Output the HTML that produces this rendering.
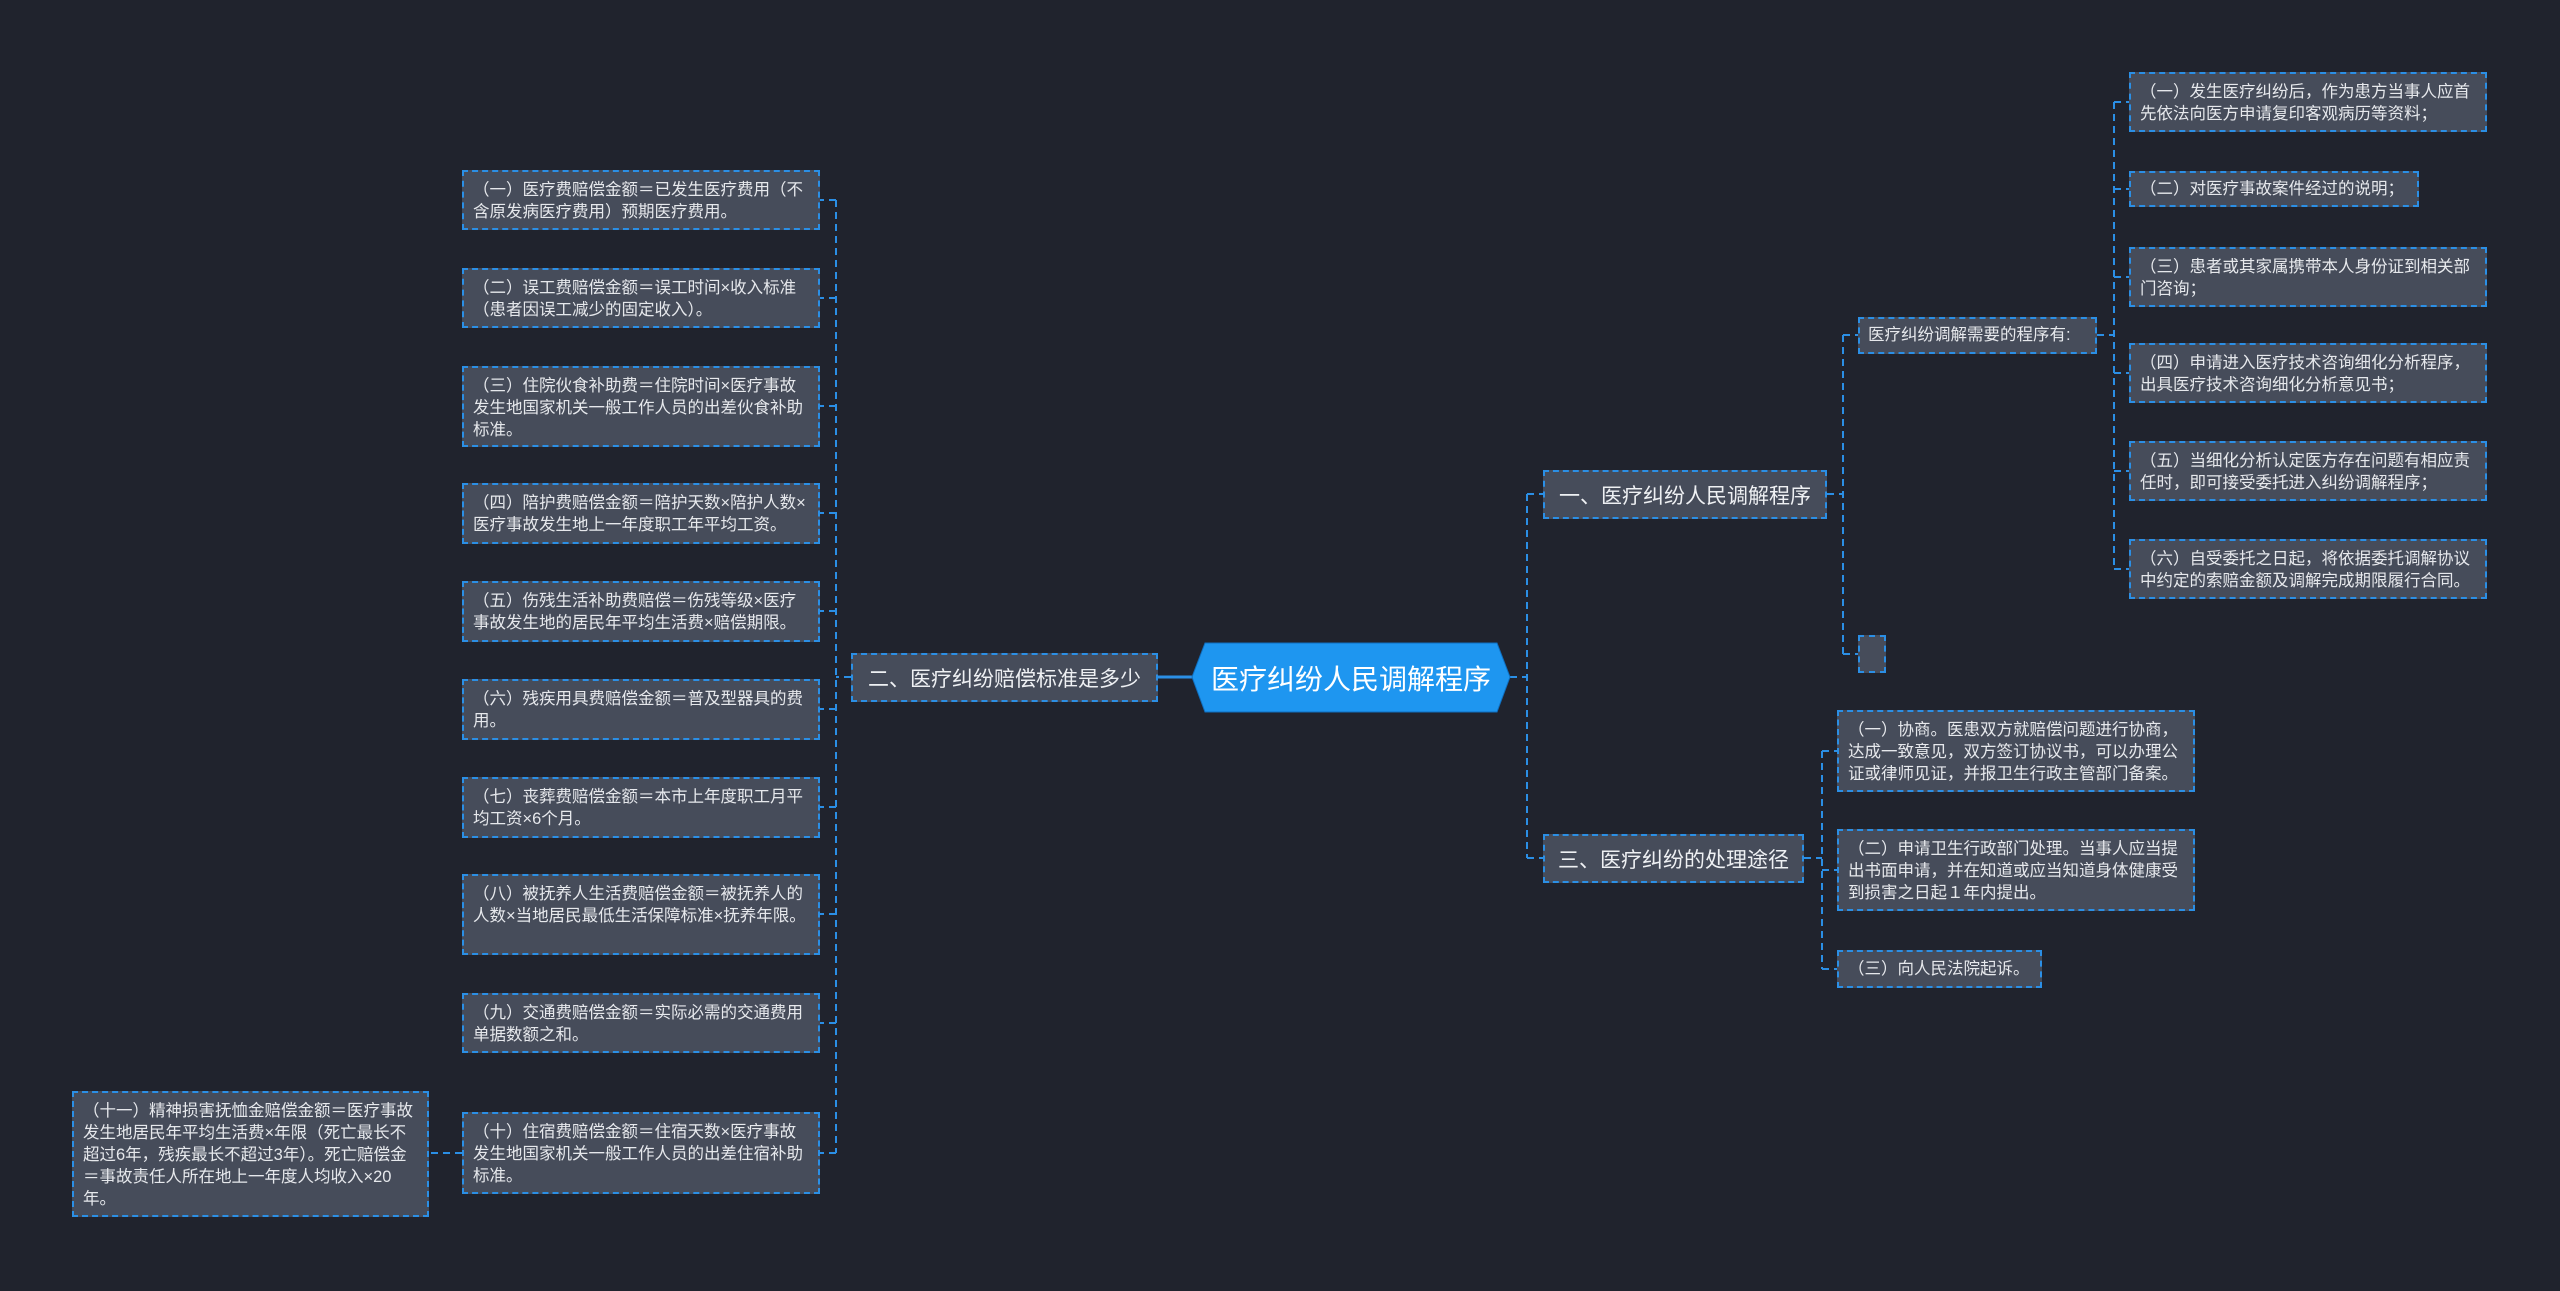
<!DOCTYPE html>
<html><head><meta charset="utf-8"><style>
html,body{margin:0;padding:0}
body{width:2560px;height:1291px;background:#20232d;position:relative;overflow:hidden;font-family:"Liberation Sans","Noto Sans CJK SC",sans-serif}
.n{position:absolute;box-sizing:border-box;background:#464c5a;border:2px dashed #2b8fe5;color:#e6e8ec;font-size:16.5px;line-height:22px;padding:7px 9px;word-break:break-all}
.b{position:absolute;box-sizing:border-box;background:#464c5a;border:2px dashed #2b8fe5;color:#eef0f3;font-size:21px;display:flex;align-items:center;justify-content:center;white-space:nowrap}
svg{position:absolute;left:0;top:0}
</style></head><body>
<svg width="2560" height="1291">
<g stroke="#2b8fe5" stroke-width="2" fill="none" stroke-dasharray="7 5">
<!-- center to right branches -->
<path d="M1510 677 H1527 M1527 494 V858 M1527 494 H1543 M1527 858 H1543"/>
<!-- center to left -->
<path d="M1192 677 H1158" stroke-dasharray="none" stroke-width="3"/>
<path d="M851 677 H836 M836 200 V1153"/>
<path d="M836 200 H820 M836 298 H820 M836 406 H820 M836 513 H820 M836 611 H820 M836 709 H820 M836 807 H820 M836 914 H820 M836 1023 H820 M836 1153 H820"/>
<path d="M462 1153 H429"/>
<!-- branch 1 -->
<path d="M1827 494 H1843 M1843 335 V654 M1843 335 H1858 M1843 654 H1858"/>
<path d="M2097 335 H2114 M2114 102 V569 M2114 102 H2129 M2114 189 H2129 M2114 277 H2129 M2114 373 H2129 M2114 471 H2129 M2114 569 H2129"/>
<!-- branch 3 -->
<path d="M1804 858 H1822 M1822 751 V969 M1822 751 H1837 M1822 870 H1837 M1822 969 H1837"/>
</g>
</svg>
<svg width="2560" height="1291"><polygon points="1205,643 1497,643 1510,677 1497,712 1205,712 1192,677" fill="#1e96f0" stroke="#0f6fc0" stroke-width="1"/></svg>
<div style="position:absolute;left:1192px;top:643px;width:318px;height:69px;display:flex;align-items:center;justify-content:center;color:#fff;font-size:28px">医疗纠纷人民调解程序</div>

<div class="b" style="left:851px;top:653px;width:307px;height:49px">二、医疗纠纷赔偿标准是多少</div>
<div class="b" style="left:1543px;top:470px;width:284px;height:49px">一、医疗纠纷人民调解程序</div>
<div class="b" style="left:1543px;top:834px;width:261px;height:49px">三、医疗纠纷的处理途径</div>

<div class="n" style="left:462px;top:170px;width:358px;height:60px">（一）医疗费赔偿金额＝已发生医疗费用（不含原发病医疗费用）预期医疗费用。</div>
<div class="n" style="left:462px;top:268px;width:358px;height:60px">（二）误工费赔偿金额＝误工时间×收入标准（患者因误工减少的固定收入）。</div>
<div class="n" style="left:462px;top:366px;width:358px;height:81px">（三）住院伙食补助费＝住院时间×医疗事故发生地国家机关一般工作人员的出差伙食补助标准。</div>
<div class="n" style="left:462px;top:483px;width:358px;height:61px">（四）陪护费赔偿金额＝陪护天数×陪护人数×医疗事故发生地上一年度职工年平均工资。</div>
<div class="n" style="left:462px;top:581px;width:358px;height:61px">（五）伤残生活补助费赔偿＝伤残等级×医疗事故发生地的居民年平均生活费×赔偿期限。</div>
<div class="n" style="left:462px;top:679px;width:358px;height:61px">（六）残疾用具费赔偿金额＝普及型器具的费用。</div>
<div class="n" style="left:462px;top:777px;width:358px;height:61px">（七）丧葬费赔偿金额＝本市上年度职工月平均工资×6个月。</div>
<div class="n" style="left:462px;top:874px;width:358px;height:81px">（八）被抚养人生活费赔偿金额＝被抚养人的人数×当地居民最低生活保障标准×抚养年限。</div>
<div class="n" style="left:462px;top:993px;width:358px;height:60px">（九）交通费赔偿金额＝实际必需的交通费用单据数额之和。</div>
<div class="n" style="left:462px;top:1112px;width:358px;height:82px">（十）住宿费赔偿金额＝住宿天数×医疗事故发生地国家机关一般工作人员的出差住宿补助标准。</div>
<div class="n" style="left:72px;top:1091px;width:357px;height:126px">（十一）精神损害抚恤金赔偿金额＝医疗事故发生地居民年平均生活费×年限（死亡最长不超过6年，残疾最长不超过3年）。死亡赔偿金＝事故责任人所在地上一年度人均收入×20年。</div>

<div class="n" style="left:1858px;top:317px;width:239px;height:37px;padding:5px 8px">医疗纠纷调解需要的程序有:</div>
<div class="n" style="left:1858px;top:635px;width:28px;height:38px"></div>

<div class="n" style="left:2129px;top:72px;width:358px;height:60px">（一）发生医疗纠纷后，作为患方当事人应首先依法向医方申请复印客观病历等资料；</div>
<div class="n" style="left:2129px;top:171px;width:290px;height:36px;padding:5px 9px">（二）对医疗事故案件经过的说明；</div>
<div class="n" style="left:2129px;top:247px;width:358px;height:60px">（三）患者或其家属携带本人身份证到相关部门咨询；</div>
<div class="n" style="left:2129px;top:343px;width:358px;height:60px">（四）申请进入医疗技术咨询细化分析程序，出具医疗技术咨询细化分析意见书；</div>
<div class="n" style="left:2129px;top:441px;width:358px;height:60px">（五）当细化分析认定医方存在问题有相应责任时，即可接受委托进入纠纷调解程序；</div>
<div class="n" style="left:2129px;top:539px;width:358px;height:60px">（六）自受委托之日起，将依据委托调解协议中约定的索赔金额及调解完成期限履行合同。</div>

<div class="n" style="left:1837px;top:710px;width:358px;height:82px">（一）协商。医患双方就赔偿问题进行协商，达成一致意见，双方签订协议书，可以办理公证或律师见证，并报卫生行政主管部门备案。</div>
<div class="n" style="left:1837px;top:829px;width:358px;height:82px">（二）申请卫生行政部门处理。当事人应当提出书面申请，并在知道或应当知道身体健康受到损害之日起１年内提出。</div>
<div class="n" style="left:1837px;top:950px;width:205px;height:38px;padding:6px 9px">（三）向人民法院起诉。</div>
</body></html>
